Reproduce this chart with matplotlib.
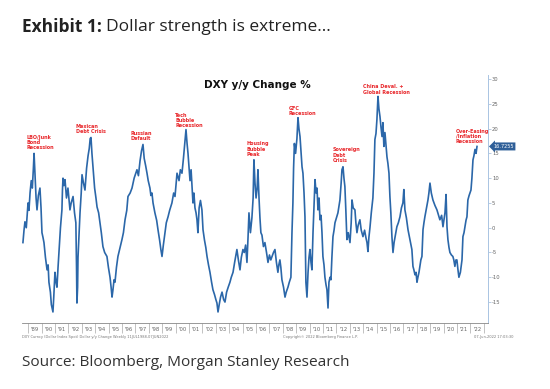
import matplotlib
matplotlib.use("Agg")
import matplotlib.pyplot as plt
import numpy as np

# DXY y/y change % (decimal years)
dates = [
    1988.60, 1988.68, 1988.75, 1988.85, 1988.98, 1989.05, 1989.13, 1989.22, 1989.30, 1989.38,
    1989.43, 1989.50, 1989.58, 1989.65, 1989.75, 1989.87, 1989.95, 1990.02, 1990.10, 1990.17,
    1990.28, 1990.40, 1990.48, 1990.54, 1990.65, 1990.72, 1990.80, 1990.84, 1990.90, 1990.99,
    1991.07, 1991.14, 1991.22, 1991.29, 1991.40, 1991.51, 1991.55, 1991.59, 1991.66, 1991.74,
    1991.85, 1991.96, 1992.04, 1992.11, 1992.20, 1992.34, 1992.45, 1992.55, 1992.60, 1992.63,
    1992.68, 1992.71, 1992.78, 1992.86, 1992.95, 1993.01, 1993.12, 1993.23, 1993.35, 1993.46,
    1993.55, 1993.62, 1993.68, 1993.75, 1993.83, 1993.95, 1994.05, 1994.13, 1994.25, 1994.35,
    1994.45, 1994.57, 1994.70, 1994.87, 1994.98, 1995.10, 1995.18, 1995.25, 1995.32, 1995.40,
    1995.47, 1995.58, 1995.69, 1995.85, 1995.99, 1996.10, 1996.22, 1996.35, 1996.44, 1996.60,
    1996.74, 1996.90, 1997.02, 1997.11, 1997.22, 1997.34, 1997.45, 1997.56, 1997.65, 1997.76,
    1997.86, 1997.95, 1998.08, 1998.15, 1998.23, 1998.31, 1998.45, 1998.58, 1998.68, 1998.80,
    1998.90, 1998.98, 1999.08, 1999.20, 1999.30, 1999.43, 1999.55, 1999.72, 1999.85, 1999.95,
    2000.02, 2000.10, 2000.25, 2000.35, 2000.47, 2000.58, 2000.68, 2000.77, 2000.85, 2000.92,
    2001.00, 2001.07, 2001.15, 2001.22, 2001.29, 2001.36, 2001.44, 2001.52, 2001.59, 2001.66,
    2001.75, 2001.85, 2001.96, 2002.04, 2002.15, 2002.25, 2002.34, 2002.45, 2002.56, 2002.68,
    2002.78, 2002.90, 2003.00, 2003.08, 2003.16, 2003.25, 2003.35, 2003.46, 2003.58, 2003.68,
    2003.80, 2003.92, 2004.05, 2004.15, 2004.28, 2004.40, 2004.50, 2004.57, 2004.68, 2004.80,
    2004.90, 2005.02, 2005.12, 2005.22, 2005.32, 2005.40, 2005.47, 2005.58, 2005.69, 2005.78,
    2005.84, 2005.92, 2006.00, 2006.08, 2006.14, 2006.22, 2006.29, 2006.36, 2006.44, 2006.55,
    2006.66, 2006.78, 2006.89, 2007.00, 2007.10, 2007.19, 2007.30, 2007.41, 2007.52, 2007.63,
    2007.70, 2007.78, 2007.85, 2007.93, 2008.05, 2008.16, 2008.25, 2008.38, 2008.48, 2008.60,
    2008.68, 2008.75, 2008.80, 2008.86, 2008.95, 2009.05, 2009.13, 2009.20, 2009.28, 2009.36,
    2009.43, 2009.50, 2009.58, 2009.65, 2009.72, 2009.80, 2009.88, 2009.95, 2010.02, 2010.10,
    2010.17, 2010.25, 2010.32, 2010.40, 2010.48, 2010.55, 2010.62, 2010.70, 2010.77, 2010.85,
    2010.92, 2010.99, 2011.07, 2011.14, 2011.22, 2011.29, 2011.37, 2011.44, 2011.52, 2011.59,
    2011.66, 2011.74, 2011.82, 2011.89, 2012.00, 2012.11, 2012.20, 2012.26, 2012.35, 2012.41,
    2012.49, 2012.56, 2012.63, 2012.70, 2012.78, 2012.88, 2013.01, 2013.10, 2013.16, 2013.25,
    2013.38, 2013.45, 2013.53, 2013.62, 2013.75, 2013.85, 2013.98, 2014.10, 2014.20, 2014.28,
    2014.35, 2014.42, 2014.50, 2014.60, 2014.72, 2014.80, 2014.87, 2014.95, 2015.02, 2015.10,
    2015.17, 2015.25, 2015.32, 2015.40, 2015.47, 2015.54, 2015.62, 2015.69, 2015.77, 2015.84,
    2015.92, 2015.99, 2016.06, 2016.14, 2016.22, 2016.30, 2016.40, 2016.51, 2016.62, 2016.74,
    2016.85, 2016.96, 2017.03, 2017.11, 2017.22, 2017.34, 2017.42, 2017.49, 2017.56, 2017.63,
    2017.71, 2017.78, 2017.86, 2017.94, 2018.01, 2018.08, 2018.16, 2018.23, 2018.30, 2018.38,
    2018.46, 2018.53, 2018.60, 2018.72, 2018.83, 2018.90, 2018.98, 2019.08, 2019.20, 2019.35,
    2019.50, 2019.62, 2019.72, 2019.85, 2019.95, 2020.05, 2020.10, 2020.18, 2020.25, 2020.32,
    2020.40, 2020.47, 2020.58, 2020.69, 2020.76, 2020.84, 2020.92, 2020.99, 2021.07, 2021.14,
    2021.25, 2021.37, 2021.44, 2021.52, 2021.59, 2021.67, 2021.74, 2021.81, 2021.90, 2021.96,
    2022.04, 2022.11, 2022.19, 2022.26, 2022.34, 2022.42, 2022.49,
]
dxy_yoy = [
    -3.0, -0.5, 1.2, 0.0, 5.0, 3.5, 7.0, 9.5, 8.0, 12.0,
    15.0, 11.0, 6.0, 3.6, 6.5, 8.0, 4.0, -1.0, -2.0, -3.0,
    -6.0, -8.5, -7.5, -11.0, -13.0, -15.5, -16.5, -17.0, -14.0, -9.0,
    -11.0, -12.0, -8.0, -5.0, 0.0, 3.6, 7.6, 10.0, 8.5, 9.7,
    6.0, 8.0, 5.6, 3.6, 5.0, 6.3, 3.0, 1.0, -8.0, -15.2,
    -12.0, -6.0, -2.0, 3.0, 7.0, 10.7, 9.0, 7.6, 12.0, 14.5,
    16.0, 18.0, 18.2, 15.0, 12.3, 8.0, 6.0, 4.2, 3.0, 1.0,
    -1.0, -3.8, -5.0, -5.8, -8.0, -10.0, -12.0, -14.0, -12.5, -10.5,
    -11.0, -8.0, -5.8, -4.0, -2.4, -1.0, 1.6, 3.5, 6.3, 7.0,
    8.0, 10.0, 11.0, 11.7, 10.5, 13.5, 15.5, 16.8, 14.0, 12.5,
    11.0, 9.5, 8.0, 6.5, 7.0, 5.0, 3.0, 1.5, -0.4, -2.5,
    -4.5, -5.8, -3.5, -1.0, 1.0, 2.2, 3.5, 5.0, 7.0, 6.3,
    8.5, 11.0, 9.5, 11.7, 11.0, 14.0, 17.0, 19.8, 17.0, 15.0,
    12.0, 9.5, 11.7, 8.3, 5.0, 7.0, 4.0, 3.0, 1.6, -1.0,
    4.0, 5.5, 3.6, -0.4, -2.5, -4.0, -5.8, -7.5, -9.0, -11.0,
    -12.5, -13.5, -14.5, -15.2, -17.0, -15.5, -14.0, -13.0, -14.5, -15.0,
    -13.0, -12.0, -11.0, -10.0, -9.0, -7.0, -5.5, -4.4, -6.5, -8.5,
    -6.0, -4.4, -5.0, -3.5, -7.0, -2.0, 3.0, -1.0, 2.0, 6.0,
    13.7, 9.0, 6.0, 8.0, 11.7, 6.0, 2.0, -1.0, -1.5, -3.8,
    -3.0, -5.0, -7.0, -5.5, -6.5, -5.8, -5.0, -4.4, -7.0, -9.0,
    -7.5, -6.5, -8.0, -10.5, -12.0, -14.0, -13.0, -12.0, -11.0, -10.0,
    -1.0, 5.0, 12.0, 17.0, 15.0, 18.0, 22.2, 20.0, 18.4, 15.0,
    12.3, 11.0, 7.0, 2.2, -11.0, -14.0, -9.0, -6.0, -4.4, -7.0,
    -8.5, -1.0, 4.0, 9.7, 7.0, 8.0, 3.6, 6.0, 1.6, 2.5,
    -1.0, -5.8, -7.5, -10.0, -11.5, -12.5, -16.2, -11.0, -10.0, -10.5,
    -6.0, -1.8, -0.5, 1.0, 2.0, 3.0, 4.5, 5.6, 9.0, 11.7,
    12.3, 10.0, 8.3, 3.6, -2.4, -1.0, -3.0, 1.0, 5.6, 4.0,
    3.6, 1.0, -1.0, 0.5, 1.6, -0.5, -1.8, -0.5, -2.0, -3.0,
    -4.8, -2.0, 0.0, 3.0, 6.0, 11.0, 17.8, 19.0, 21.8, 26.5,
    24.0, 22.4, 20.4, 18.4, 21.2, 16.4, 19.2, 17.0, 14.3, 13.0,
    11.0, 6.3, 3.0, -1.8, -5.0, -3.0, -1.5, 0.2, 1.0, 2.2,
    4.0, 5.0, 7.7, 3.6, 2.0, -0.4, -1.5, -2.4, -3.5, -4.4,
    -7.8, -8.5, -9.5, -9.0, -11.0, -10.0, -9.0, -7.8, -6.5, -5.8,
    -0.4, 1.0, 2.2, 4.0, 5.6, 7.0, 9.0, 7.0, 5.6, 4.5,
    3.6, 2.5, 1.6, 2.5, 0.2, 2.0, 3.0, 6.7, 0.2, -2.4,
    -4.0, -5.0, -5.5, -5.8, -6.5, -7.8, -6.5, -6.5, -8.5, -10.0,
    -9.0, -6.5, -1.8, -1.0, 0.2, 1.5, 2.2, 5.6, 6.5, 7.0,
    7.6, 10.0, 13.7, 14.5, 15.8, 15.0, 16.4,
]

event_labels = [
    "LBO/Junk\nBond\nRecession", "Mexican\nDebt Crisis", "Russian\nDefault",
    "Tech\nBubble\nRecession", "Housing\nBubble\nPeak", "GFC\nRecession",
    "Sovereign\nDebt\nCrisis", "China Deval. +\nGlobal Recession",
    "Over-Easing\n/Inflation\nRecession",
]
event_x = [1988.83, 1992.56, 1996.66, 1999.95, 2005.25, 2008.45, 2011.74, 2013.98, 2020.92]
event_y = [18.8, 21.0, 19.6, 23.2, 17.4, 24.6, 16.2, 28.9, 20.0]

years = list(range(1989, 2023))
last_value = "16.7255"

fig = plt.figure(figsize=(5.5, 3.89), dpi=100)
ax = fig.add_axes([0.04, 0.170, 0.847, 0.637])

ax.plot(dates, dxy_yoy, color="#2b67a9", linewidth=1.2)

ax.set_xlim(1988.53, 2023.3)
ax.set_ylim(-19.2, 30.8)

# right hand value axis
ax.yaxis.tick_right()
ax.set_yticks(range(-15, 31, 5))
ax.set_yticklabels([str(v) for v in range(-15, 31, 5)])
ax.tick_params(axis="y", which="major", direction="out", length=2, width=0.5,
               color="#9fb8d6", labelsize=3.8, labelcolor="#666666", pad=1)

# year separators + year labels between them
ax.set_xticks([y for y in years] + [2023])
ax.set_xticklabels([])
ax.set_xticks([y + 0.5 for y in years], minor=True)
ax.set_xticklabels(["'%02d" % (y % 100) for y in years], minor=True)
ax.tick_params(axis="x", which="major", direction="out", length=7, width=0.5,
               color="#aaaaaa")
ax.tick_params(axis="x", which="minor", length=0, labelsize=3.8,
               labelcolor="#666666", pad=3)

for side in ["top", "left"]:
    ax.spines[side].set_visible(False)
ax.spines["right"].set_color("#a9c4e2")
ax.spines["right"].set_linewidth(0.7)
ax.spines["bottom"].set_color("#888888")
ax.spines["bottom"].set_linewidth(0.6)

ax.text(0.506, 0.96, "DXY y/y Change %", transform=ax.transAxes, fontsize=7.5,
        fontweight="bold", color="#111111", ha="center", va="center")

for lab, ex, ey in zip(event_labels, event_x, event_y):
    ax.text(ex, ey, lab, color="#e8262a", fontsize=3.5, fontweight="bold",
            ha="left", va="top", linespacing=1.05)

ax.annotate(last_value, xy=(2023.3, dxy_yoy[-1]), xytext=(4, 0), textcoords="offset points",
            fontsize=3.6, color="white", va="center", ha="left", annotation_clip=False,
            bbox=dict(boxstyle="larrow,pad=0.3", fc="#2f5f98", ec="none"))

# footer lines under the chart
fig.text(0.04, 1 - 337 / 389, "DXY Curncy (Dollar Index Spot) Dollar y/y Change Weekly 11JUL1988-07JUN2022",
         fontsize=2.6, color="#777777", va="center")
fig.text(0.515, 1 - 337 / 389, "Copyright\u00a9 2022 Bloomberg Finance L.P.",
         fontsize=2.6, color="#777777", va="center")
fig.text(0.862, 1 - 337 / 389, "07-Jun-2022 17:03:30",
         fontsize=2.6, color="#777777", va="center")

# headline
t1 = fig.text(0.04, 1 - 27 / 389, "Exhibit 1:", fontsize=12.5, fontweight="bold",
              family="Open Sans", color="#222222", va="center")
fig.canvas.draw()
bb = t1.get_window_extent(renderer=fig.canvas.get_renderer())
fig.text(bb.x1 / fig.bbox.width + 0.008, 1 - 27 / 389, "Dollar strength is extreme...",
         fontsize=12.5, family="Open Sans", color="#222222", va="center")

fig.text(0.04, 1 - 362 / 389, "Source: Bloomberg, Morgan Stanley Research",
         fontsize=11.1, family="Open Sans", color="#333333", va="center")

fig.savefig("out.png", dpi=100, facecolor="white")
